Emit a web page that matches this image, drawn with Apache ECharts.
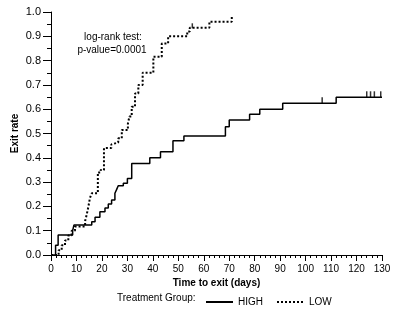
<!DOCTYPE html>
<html>
<head>
<meta charset="utf-8">
<script src="https://cdn.jsdelivr.net/npm/echarts@6/dist/echarts.min.js"></script>
<style>
  html, body { margin: 0; padding: 0; background: #fff; }
  #main { width: 400px; height: 314px; }
</style>
</head>
<body>
<div id="main"></div>
<script>
// step curves: [day, exit rate]
const highSteps = [
  [0, 0], [1.8, 0.04], [2.8, 0.082], [8.5, 0.10], [9, 0.123], [16, 0.137],
  [17.3, 0.155], [19.2, 0.178], [21.2, 0.193], [22.5, 0.21], [23.8, 0.226],
  [25.1, 0.254], [25.8, 0.27], [26.4, 0.285], [28.4, 0.295], [30, 0.315],
  [31.7, 0.377], [38.8, 0.40], [43, 0.425], [47.9, 0.47], [52.2, 0.49],
  [68.5, 0.528], [70, 0.556], [78, 0.579], [82, 0.60], [91, 0.624],
  [112, 0.649], [130, 0.649]
];
const lowSteps = [
  [0, 0], [3, 0.02], [4.2, 0.04], [5.5, 0.06], [6.8, 0.08], [8.1, 0.10],
  [9.4, 0.117], [13.4, 0.14], [14, 0.165], [14.7, 0.2], [15.3, 0.235],
  [16, 0.254], [18.4, 0.34], [19.5, 0.35], [20.8, 0.44], [23.7, 0.455],
  [24.4, 0.463], [26.4, 0.48], [27.8, 0.514], [30.2, 0.54], [30.8, 0.57],
  [31.7, 0.61], [33, 0.665], [34.3, 0.70], [36, 0.75], [40.2, 0.816],
  [43.5, 0.87], [46, 0.90], [53.5, 0.92], [54.5, 0.935], [62.2, 0.96],
  [71, 0.986]
];
// censored observations
const highCensor = [[106.5, 0.624], [124, 0.649], [125.5, 0.649], [127, 0.649], [129.5, 0.649]];
const lowCensor = [[55.5, 0.935]];

const groupNames = ['HIGH', 'LOW'];
const font = "'Liberation Sans', Arial, sans-serif";

const chart = echarts.init(document.getElementById('main'));
chart.setOption({
  animation: false,
  grid: { left: 51, right: 18, top: 12, bottom: 59, outerBoundsMode: 'none' },
  xAxis: {
    type: 'value',
    min: 0,
    max: 130,
    interval: 10,
    name: 'Time to exit (days)',
    nameLocation: 'middle',
    nameGap: 23,
    nameMoveOverlap: false,
    nameTextStyle: { fontFamily: font, fontSize: 10, fontWeight: 'bold', color: '#000' },
    axisLine: { lineStyle: { color: '#000', width: 1 } },
    axisTick: { length: 6, lineStyle: { color: '#000' } },
    minorTick: { show: true, splitNumber: 5, length: 3, lineStyle: { color: '#000' } },
    axisLabel: { fontFamily: font, fontSize: 10, color: '#000', margin: 9 },
    splitLine: { show: false }
  },
  yAxis: {
    type: 'value',
    min: 0,
    max: 1,
    interval: 0.1,
    name: 'Exit rate',
    nameLocation: 'middle',
    nameGap: 31,
    nameMoveOverlap: false,
    nameTextStyle: { fontFamily: font, fontSize: 10, fontWeight: 'bold', color: '#000' },
    axisLine: { show: true, lineStyle: { color: '#000', width: 1 } },
    axisTick: { show: true, length: 8, lineStyle: { color: '#000' } },
    minorTick: { show: true, splitNumber: 2, length: 4, lineStyle: { color: '#000' } },
    axisLabel: {
      fontFamily: font, fontSize: 11, color: '#000', margin: 10,
      formatter: function (v) { return v.toFixed(1); }
    },
    splitLine: { show: false }
  },
  legend: {
    data: groupNames,
    left: 200,
    top: 292,
    itemWidth: 27,
    itemHeight: 10,
    itemGap: 13,
    itemStyle: { opacity: 0 },
    textStyle: { fontFamily: font, fontSize: 10, color: '#000' }
  },
  graphic: [
    {
      type: 'text', left: 117, top: 293,
      style: { text: 'Treatment Group:', font: '10px ' + font, fill: '#000' }
    },
    {
      type: 'text', x: 113, y: 32,
      style: { text: 'log-rank test:', font: '10px ' + font, fill: '#000', align: 'center' }
    },
    {
      type: 'text', x: 112, y: 45,
      style: { text: 'p-value=0.0001', font: '10px ' + font, fill: '#000', align: 'center' }
    }
  ],
  series: [
    {
      name: 'HIGH',
      type: 'line',
      step: 'end',
      symbol: 'none',
      data: highSteps,
      lineStyle: { color: '#000', width: 1.5, type: 'solid' },
      itemStyle: { color: '#000' }
    },
    {
      name: 'LOW',
      type: 'line',
      step: 'end',
      symbol: 'none',
      data: lowSteps,
      lineStyle: { color: '#000', width: 2, type: [2, 2] },
      itemStyle: { color: '#000' }
    },
    {
      type: 'scatter',
      data: highCensor,
      symbol: 'rect',
      symbolSize: [1.5, 6],
      symbolOffset: [0, -3],
      itemStyle: { color: '#000' },
      silent: true
    },
    {
      type: 'scatter',
      data: lowCensor,
      symbol: 'rect',
      symbolSize: [1.5, 5],
      symbolOffset: [0, -2],
      itemStyle: { color: '#000' },
      silent: true
    }
  ]
});
</script>
</body>
</html>
